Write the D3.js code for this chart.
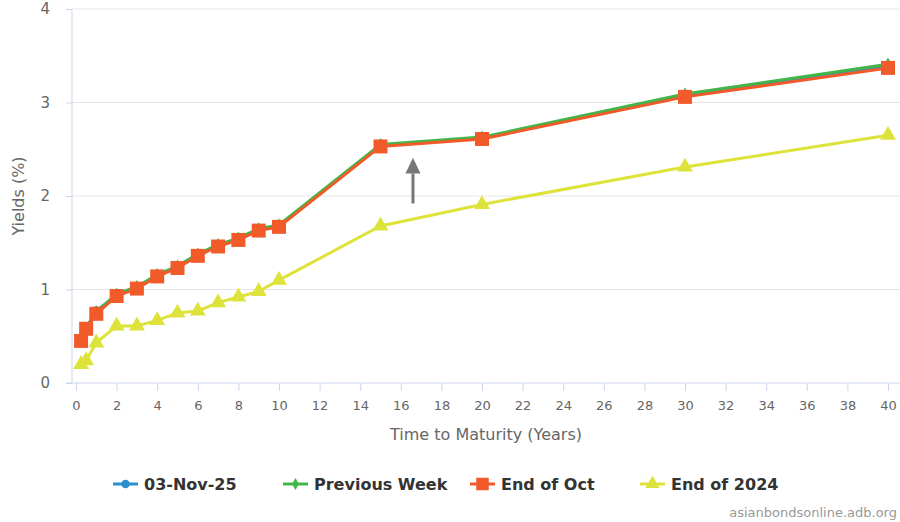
<!DOCTYPE html>
<meta charset="utf-8">
<html>
<head>
<style>
body { margin: 0; background: #fff; }
text { font-family: "DejaVu Sans", Verdana, sans-serif; }
.axis text { fill: #666; font-size: 13px; }
.legend text { fill: #333; font-size: 16px; font-weight: bold; }
</style>
<script src="https://d3js.org/d3.v7.min.js"></script>
</head>
<body>
<svg width="900" height="522"></svg>
<script>
// maturities in years
var maturities = [0.25, 0.5, 1, 2, 3, 4, 5, 6, 7, 8, 9, 10, 15, 20, 30, 40];

var nov03   = [0.46, 0.59, 0.77, 0.94, 1.02, 1.15, 1.24, 1.37, 1.47, 1.54, 1.64, 1.68, 2.54, 2.62, 3.08, 3.39];
var prevWk  = [0.46, 0.59, 0.76, 0.95, 1.03, 1.16, 1.25, 1.38, 1.48, 1.55, 1.65, 1.69, 2.55, 2.63, 3.09, 3.41];
var endOct  = [0.45, 0.58, 0.74, 0.93, 1.01, 1.14, 1.23, 1.36, 1.46, 1.53, 1.63, 1.67, 2.53, 2.61, 3.06, 3.37];
var end2024 = [0.20, 0.24, 0.43, 0.61, 0.61, 0.67, 0.75, 0.77, 0.86, 0.92, 0.98, 1.10, 1.68, 1.91, 2.31, 2.65];

var xTicks = d3.range(0, 41, 2);
var yTicks = [0, 1, 2, 3, 4];

var series = [
  {name: "03-Nov-25",     values: nov03,   color: "#2a8fcf", symbol: d3.symbolCircle,   size: 70},
  {name: "Previous Week", values: prevWk,  color: "#43b649", symbol: d3.symbolDiamond,  size: 50},
  {name: "End of Oct",    values: endOct,  color: "#f15a29", symbol: d3.symbolSquare,   size: 196},
  {name: "End of 2024",   values: end2024, color: "#dde33a", symbol: d3.symbolTriangle, size: 110}
];

var svg = d3.select("svg");

var x = d3.scaleLinear().domain([0, 40]).range([76, 888]);
var y = d3.scaleLinear().domain([0, 4]).range([383, 9]);

// grid
svg.append("g").selectAll("line")
    .data(yTicks.slice(1))
  .enter().append("line")
    .attr("x1", 72).attr("x2", 900)
    .attr("y1", function(d) { return y(d); })
    .attr("y2", function(d) { return y(d); })
    .attr("stroke", "#e6e6e6");

// y axis
var yAxis = svg.append("g")
    .attr("class", "axis")
    .attr("transform", "translate(72,0)")
    .call(d3.axisLeft(y).tickValues(yTicks).tickFormat(d3.format("d")).tickSize(6).tickPadding(16));
yAxis.select(".domain").attr("stroke", "#ccd6eb").attr("d", "M0," + y(4) + "V" + y(0));
yAxis.selectAll(".tick line").attr("stroke", "#ccd6eb");
yAxis.selectAll("text").style("font-size", "15px");

// x axis
var xAxis = svg.append("g")
    .attr("class", "axis")
    .attr("transform", "translate(0,383)")
    .call(d3.axisBottom(x).tickValues(xTicks).tickSize(8).tickPadding(10));
xAxis.select(".domain").attr("stroke", "#ccd6eb").attr("d", "M66,0H900");
xAxis.selectAll(".tick line").attr("stroke", "#ccd6eb");

svg.append("text")
    .attr("x", 486).attr("y", 440)
    .attr("text-anchor", "middle")
    .style("font-size", "16px").style("fill", "#666")
    .text("Time to Maturity (Years)");

svg.append("text")
    .attr("transform", "translate(24,196) rotate(-90)")
    .attr("text-anchor", "middle")
    .style("font-size", "16px").style("fill", "#666")
    .text("Yields (%)");

// lines + markers
var line = d3.line()
    .x(function(d) { return x(d[0]); })
    .y(function(d) { return y(d[1]); });

series.forEach(function(s) {
  var pts = maturities.map(function(m, i) { return [m, s.values[i]]; });
  var g = svg.append("g");
  g.append("path")
      .datum(pts)
      .attr("d", line)
      .attr("fill", "none")
      .attr("stroke", s.color)
      .attr("stroke-width", 3);
  g.selectAll("path.pt")
      .data(pts)
    .enter().append("path")
      .attr("class", "pt")
      .attr("transform", function(d) { return "translate(" + x(d[0]) + "," + y(d[1]) + ")"; })
      .attr("d", d3.symbol().type(s.symbol).size(s.size))
      .attr("fill", s.color);
});

// arrow
var ax = x(16.6);
svg.append("line")
    .attr("x1", ax).attr("x2", ax)
    .attr("y1", y(1.92)).attr("y2", y(2.24))
    .attr("stroke", "#777").attr("stroke-width", 3);
svg.append("path")
    .attr("d", "M" + (ax - 7.5) + "," + y(2.24) + "L" + ax + "," + y(2.41) + "L" + (ax + 7.5) + "," + y(2.24) + "Z")
    .attr("fill", "#777");

// legend
var legendX = [113, 283, 470, 640];
var legend = svg.append("g").attr("class", "legend");
series.forEach(function(s, i) {
  var g = legend.append("g").attr("transform", "translate(" + legendX[i] + ",484)");
  g.append("line").attr("x1", 0).attr("x2", 25).attr("stroke", s.color).attr("stroke-width", 3);
  g.append("path")
      .attr("transform", "translate(12.5,0)")
      .attr("d", d3.symbol().type(s.symbol).size(s.size * 0.8))
      .attr("fill", s.color);
  g.append("text").attr("x", 31).attr("y", 6).text(s.name);
});

svg.append("text")
    .attr("x", 897).attr("y", 517)
    .attr("text-anchor", "end")
    .style("font-size", "13px").style("fill", "#999")
    .text("asianbondsonline.adb.org");
</script>
</body>
</html>
